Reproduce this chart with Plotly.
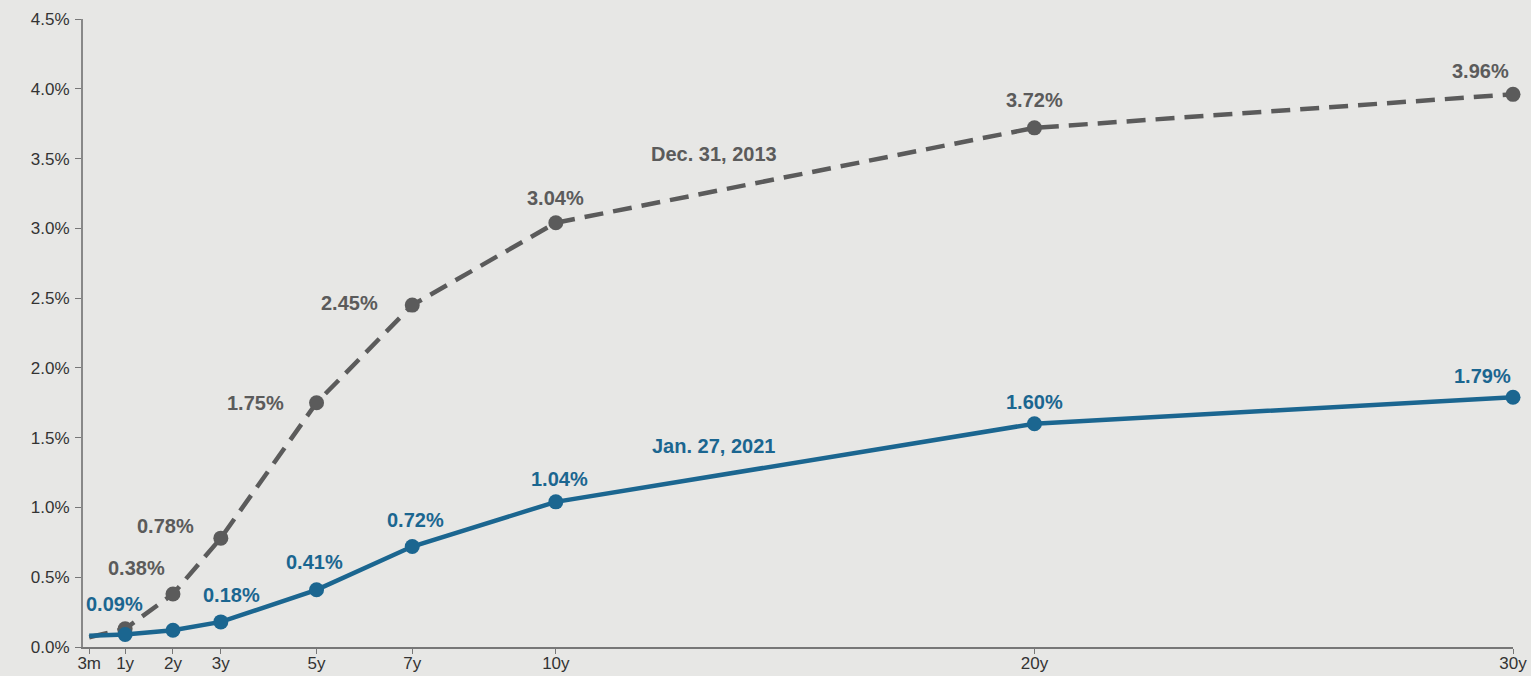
import plotly.graph_objects as go

# Data
maturity_years = [0.25, 1, 2, 3, 5, 7, 10, 20, 30]
tick_labels = ["3m", "1y", "2y", "3y", "5y", "7y", "10y", "20y", "30y"]
yield_dec2013 = [0.07, 0.13, 0.38, 0.78, 1.75, 2.45, 3.04, 3.72, 3.96]
yield_jan2021 = [0.08, 0.09, 0.12, 0.18, 0.41, 0.72, 1.04, 1.60, 1.79]
name_dec2013 = "Dec. 31, 2013"
name_jan2021 = "Jan. 27, 2021"
labeled_dec2013 = [2, 3, 4, 5, 6, 7, 8]
labeled_jan2021 = [1, 3, 4, 5, 6, 7, 8]
y_ticks = [0, 0.5, 1, 1.5, 2, 2.5, 3, 3.5, 4, 4.5]

# Styles
GRAY = "#5b5b5b"
BLUE = "#1b6690"
BG = "#e7e7e5"
FONT = "Liberation Sans"
LBL = 20
off_dec = {2: (-36, 26), 3: (-55, 12), 4: (-61, 0), 5: (-63, 2), 6: (0, 25), 7: (0, 28), 8: (-33, 23)}
off_jan = {1: (-11, 30), 3: (11, 27), 4: (-2, 28), 5: (3, 27), 6: (4, 23), 7: (0, 22), 8: (-31, 21)}

fig = go.Figure()
fig.add_trace(go.Scatter(
    x=maturity_years, y=yield_dec2013, mode="lines+markers", name=name_dec2013,
    line=dict(color=GRAY, width=4.5, dash="19px,10px"),
    marker=dict(color=GRAY, size=[0] + [15] * 8, line=dict(width=0), opacity=1),
    cliponaxis=False,
))
fig.add_trace(go.Scatter(
    x=maturity_years, y=yield_jan2021, mode="lines+markers", name=name_jan2021,
    line=dict(color=BLUE, width=4.5),
    marker=dict(color=BLUE, size=[0] + [15] * 8, line=dict(width=0), opacity=1),
    cliponaxis=False,
))

annotations = []
for i in labeled_dec2013:
    dx, dy = off_dec[i]
    annotations.append(dict(x=maturity_years[i], y=yield_dec2013[i], text=f"{yield_dec2013[i]:.2f}%",
                            showarrow=False, xshift=dx, yshift=dy,
                            font=dict(family=FONT, size=LBL, color=GRAY, weight="bold")))
for i in labeled_jan2021:
    dx, dy = off_jan[i]
    annotations.append(dict(x=maturity_years[i], y=yield_jan2021[i], text=f"{yield_jan2021[i]:.2f}%",
                            showarrow=False, xshift=dx, yshift=dy,
                            font=dict(family=FONT, size=LBL, color=BLUE, weight="bold")))
annotations.append(dict(x=13.3, y=3.53, text=name_dec2013, showarrow=False,
                        font=dict(family=FONT, size=LBL, color=GRAY, weight="bold")))
annotations.append(dict(x=13.3, y=1.44, text=name_jan2021, showarrow=False,
                        font=dict(family=FONT, size=LBL, color=BLUE, weight="bold")))

fig.update_layout(
    width=1531, height=676,
    margin=dict(l=83, r=18, t=19, b=29),
    paper_bgcolor=BG, plot_bgcolor=BG,
    showlegend=False,
    annotations=annotations,
    font=dict(family=FONT, size=17, color="#333333"),
    xaxis=dict(range=[0.12, 30], tickvals=maturity_years, ticktext=tick_labels, automargin=False,
               showgrid=False, zeroline=False, showline=True, linecolor="#777777", linewidth=1.5,
               ticks="outside", ticklen=5, tickcolor="#777777", ticklabeloverflow="allow",
               ticklabelstandoff=-5, tickfont=dict(size=17, color="#333333")),
    yaxis=dict(range=[0, 4.5], tickvals=y_ticks, ticktext=[f"{v:.1f}%" for v in y_ticks], automargin=False,
               showgrid=False, zeroline=False, showline=True, linecolor="#888888", linewidth=2,
               ticks="outside", ticklen=6, tickcolor="#777777", ticklabeloverflow="allow",
               ticklabelstandoff=2, tickfont=dict(size=17, color="#333333")),
)
fig.write_html(
    "out.html",
    config={"displayModeBar": False},
    post_script="document.body.style.margin='0';document.body.style.overflow='hidden';"
                "document.body.style.background='#e7e7e5';",
)
